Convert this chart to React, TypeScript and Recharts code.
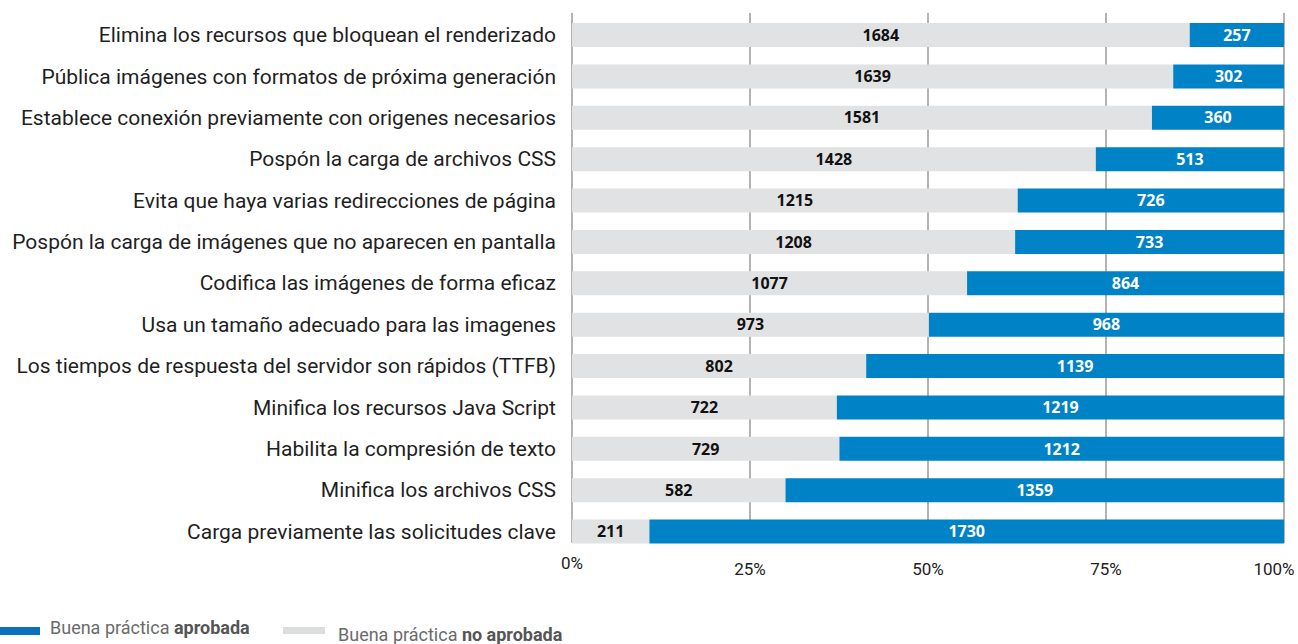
import React from "react";
import {
  BarChart,
  Bar,
  XAxis,
  YAxis,
  CartesianGrid,
  LabelList,
} from "recharts";

const categories = [
  "Elimina los recursos que bloquean el renderizado",
  "Pública imágenes con formatos de próxima generación",
  "Establece conexión previamente con origenes necesarios",
  "Pospón la carga de archivos CSS",
  "Evita que haya varias redirecciones de página",
  "Pospón la carga de imágenes que no aparecen en pantalla",
  "Codifica las imágenes de forma eficaz",
  "Usa un tamaño adecuado para las imagenes",
  "Los tiempos de respuesta del servidor son rápidos (TTFB)",
  "Minifica los recursos Java Script",
  "Habilita la compresión de texto",
  "Minifica los archivos CSS",
  "Carga previamente las solicitudes clave",
];
const noAprobada = [1684, 1639, 1581, 1428, 1215, 1208, 1077, 973, 802, 722, 729, 582, 211];
const aprobada = [257, 302, 360, 513, 726, 733, 864, 968, 1139, 1219, 1212, 1359, 1730];
const xTicks = [0, 0.25, 0.5, 0.75, 1];
const xTickLabels = ["0%", "25%", "50%", "75%", "100%"];

const BLUE = "#0082c6";
const GRAY = "#e1e2e3";

const data = categories.map((name, i) => ({
  name,
  no: noAprobada[i],
  si: aprobada[i],
}));

function PercentTick(props: any) {
  const { x, y, index } = props;
  const dx = index === xTicks.length - 1 ? -10 : 0;
  const dy = index === 0 ? 9 : 15;
  return (
    <text
      x={x + dx}
      y={y + dy}
      textAnchor="middle"
      dominantBaseline="central"
      fontFamily="Roboto, sans-serif"
      fontSize={17}
      fill="#222"
    >
      {xTickLabels[index]}
    </text>
  );
}

export default function App() {
  return (
    <div style={{ position: "absolute", left: 0, top: 0, width: 1298, height: 644, background: "#fff" }}>
      <BarChart
        width={1298}
        height={644}
        data={data}
        layout="vertical"
        stackOffset="expand"
        margin={{ top: 14, right: 14, left: 0, bottom: 52 }}
      >
        <CartesianGrid horizontal={false} y={13} height={530} stroke="#9a9a9a" strokeWidth={1.5} />
        <XAxis
          type="number"
          domain={[0, 1]}
          ticks={xTicks}
          height={40}
          axisLine={false}
          tickLine={false}
          tickSize={0}
          tick={<PercentTick />}
          interval={0}
        />
        <YAxis
          type="category"
          dataKey="name"
          width={572}
          axisLine={false}
          tickLine={false}
          tickSize={0}
          tickMargin={16}
          interval={0}
          tick={{ fontFamily: "Roboto, sans-serif", fontSize: 21, fill: "#1f1f1f" }}
        />
        <Bar dataKey="no" stackId="a" fill={GRAY} barSize={24} isAnimationActive={false}>
          <LabelList
            dataKey="no"
            position="center"
            fill="#111"
            fontFamily="'Open Sans', sans-serif"
            fontWeight={700}
            fontSize={16}
          />
        </Bar>
        <Bar dataKey="si" stackId="a" fill={BLUE} barSize={24} isAnimationActive={false}>
          <LabelList
            dataKey="si"
            position="center"
            fill="#fff"
            fontFamily="'Open Sans', sans-serif"
            fontWeight={700}
            fontSize={16}
          />
        </Bar>
      </BarChart>

      <div style={{ position: "absolute", left: 0, top: 627, width: 40, height: 8, background: "#0a6fbf" }} />
      <div
        style={{
          position: "absolute",
          left: 50,
          top: 618,
          lineHeight: "20px",
          fontFamily: "Roboto, sans-serif",
          fontSize: 18,
          color: "#6b6b6b",
          whiteSpace: "nowrap",
        }}
      >
        Buena práctica <b style={{ color: "#555" }}>aprobada</b>
      </div>
      <div style={{ position: "absolute", left: 283, top: 627, width: 42, height: 7, background: "#dcdddf" }} />
      <div
        style={{
          position: "absolute",
          left: 338,
          top: 625,
          lineHeight: "20px",
          fontFamily: "Roboto, sans-serif",
          fontSize: 18,
          color: "#6b6b6b",
          whiteSpace: "nowrap",
        }}
      >
        Buena práctica <b style={{ color: "#555" }}>no aprobada</b>
      </div>
    </div>
  );
}
